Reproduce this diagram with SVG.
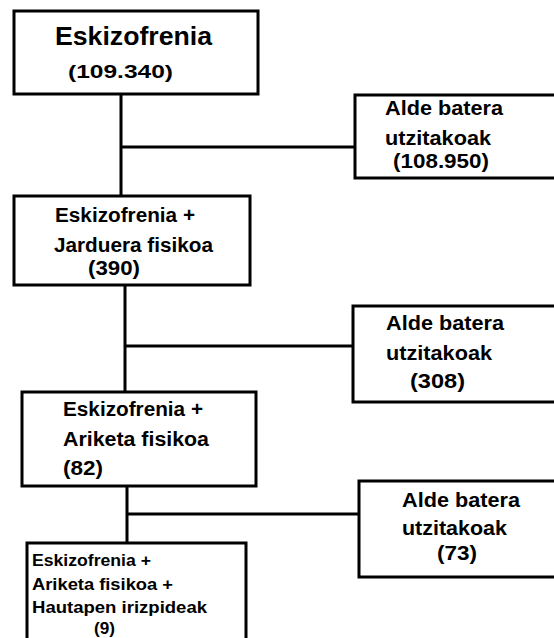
<svg xmlns="http://www.w3.org/2000/svg" width="554" height="638" viewBox="0 0 554 638">
<style>
.box{fill:#fff;stroke:#000;stroke-width:3}
.ln{stroke:#000;stroke-width:3;fill:none}
text{font-family:"Liberation Sans",Arial,sans-serif;font-weight:bold;fill:#000}
.m{font-size:20px}
.s{font-size:16.5px}
</style>
<rect width="554" height="638" fill="#fff"/>
<g id="connectors">
<path class="ln" d="M121 94V197M121 147H356"/>
<path class="ln" d="M125 285V393M125 346H354"/>
<path class="ln" d="M127 486V544M127 514H360"/>
</g>
<g id="n1">
<rect class="box" x="14" y="11" width="244" height="83"/>
<text x="55" y="45" font-size="26" textLength="157" lengthAdjust="spacingAndGlyphs">Eskizofrenia</text>
<text x="68" y="78" font-size="18.5" textLength="105" lengthAdjust="spacingAndGlyphs">(109.340)</text>
</g>
<g id="n2">
<rect class="box" x="355" y="95" width="210" height="83"/>
<text class="m" x="385" y="115" textLength="118" lengthAdjust="spacingAndGlyphs">Alde batera</text>
<text class="m" x="385" y="145" textLength="106" lengthAdjust="spacingAndGlyphs">utzitakoak</text>
<text class="m" x="393" y="168" textLength="96" lengthAdjust="spacingAndGlyphs">(108.950)</text>
</g>
<g id="n3">
<rect class="box" x="14" y="196" width="236" height="89"/>
<text class="m" x="55" y="222" textLength="140" lengthAdjust="spacingAndGlyphs">Eskizofrenia +</text>
<text class="m" x="54" y="252" textLength="159" lengthAdjust="spacingAndGlyphs">Jarduera fisikoa</text>
<text class="m" x="88" y="275" textLength="52" lengthAdjust="spacingAndGlyphs">(390)</text>
</g>
<g id="n4">
<rect class="box" x="353" y="306" width="212" height="96"/>
<text class="m" x="386" y="330" textLength="118" lengthAdjust="spacingAndGlyphs">Alde batera</text>
<text class="m" x="386" y="360" textLength="106" lengthAdjust="spacingAndGlyphs">utzitakoak</text>
<text class="m" x="410" y="388" textLength="55" lengthAdjust="spacingAndGlyphs">(308)</text>
</g>
<g id="n5">
<rect class="box" x="22" y="392" width="234" height="94"/>
<text class="m" x="63" y="416" textLength="140" lengthAdjust="spacingAndGlyphs">Eskizofrenia +</text>
<text class="m" x="63" y="446" textLength="146" lengthAdjust="spacingAndGlyphs">Ariketa fisikoa</text>
<text class="m" x="63" y="475" textLength="40" lengthAdjust="spacingAndGlyphs">(82)</text>
</g>
<g id="n6">
<rect class="box" x="27" y="543" width="219" height="110"/>
<text class="s" x="32" y="566" textLength="119" lengthAdjust="spacingAndGlyphs">Eskizofrenia +</text>
<text class="s" x="32" y="590" textLength="141" lengthAdjust="spacingAndGlyphs">Ariketa fisikoa +</text>
<text class="s" x="32" y="613" textLength="175" lengthAdjust="spacingAndGlyphs">Hautapen irizpideak</text>
<text class="s" x="94" y="634" textLength="21" lengthAdjust="spacingAndGlyphs">(9)</text>
</g>
<g id="n7">
<rect class="box" x="359" y="481" width="206" height="96"/>
<text class="m" x="402" y="507" textLength="118" lengthAdjust="spacingAndGlyphs">Alde batera</text>
<text class="m" x="402" y="535" textLength="105" lengthAdjust="spacingAndGlyphs">utzitakoak</text>
<text class="m" x="437" y="560" textLength="40" lengthAdjust="spacingAndGlyphs">(73)</text>
</g>
</svg>
